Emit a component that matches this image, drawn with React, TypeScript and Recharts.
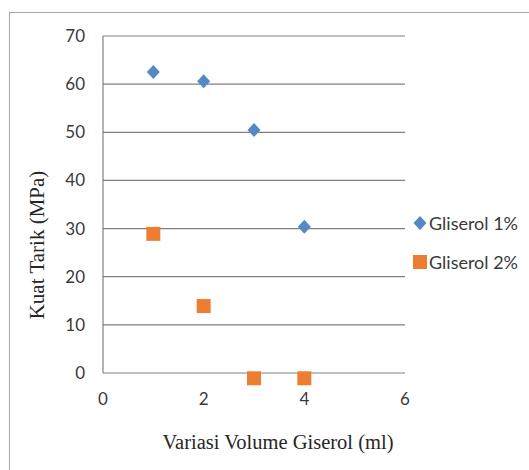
import { ScatterChart, Scatter, XAxis, YAxis, CartesianGrid, Legend } from "recharts";

const volume = [1, 2, 3, 4];
const gliserol1 = [62.5, 60.6, 50.5, 30.4];
const gliserol2 = [28.9, 13.9, -1.1, -1.1];
const xTicks = [0, 2, 4, 6];
const yTicks = [0, 10, 20, 30, 40, 50, 60, 70];
const seriesNames = ["Gliserol 1%", "Gliserol 2%"];

const BLUE = "#5589c4";
const ORANGE = "#ed7d31";
const TICK_FONT = "Lato, 'Open Sans', sans-serif";
const TITLE_FONT = "'Liberation Serif', 'Times New Roman', serif";

const data1 = volume.map((x, i) => ({ x, y: gliserol1[i] }));
const data2 = volume.map((x, i) => ({ x, y: gliserol2[i] }));

const Diamond = ({ cx, cy, fill }: any) => (
  <path d={`M${cx},${cy - 7}L${cx + 6.5},${cy}L${cx},${cy + 7}L${cx - 6.5},${cy}Z`} fill={fill} />
);

const Square = ({ cx, cy, fill }: any) => (
  <rect x={cx - 7} y={cy - 7} width={14} height={14} fill={fill} />
);

function LegendBox({ payload }: any) {
  return (
    <div style={{ fontFamily: TICK_FONT, fontSize: 18, color: "#3a3a3a" }}>
      {(payload || []).map((p: any, i: number) => (
        <div key={p.value} style={{ display: "flex", alignItems: "center", height: 39 }}>
          <svg width={16} height={16} style={{ marginRight: 1 }}>
            {i === 0 ? <Diamond cx={8} cy={8} fill={BLUE} /> : <Square cx={8} cy={8} fill={ORANGE} />}
          </svg>
          <span>{p.value}</span>
        </div>
      ))}
    </div>
  );
}

const XTitle = () => (
  <text x={278} y={449} textAnchor="middle" fontFamily={TITLE_FONT} fontSize={20.5} fill="#262626">
    Variasi Volume Giserol (ml)
  </text>
);

const YTitle = () => (
  <text
    x={44}
    y={245}
    transform="rotate(-90, 44, 245)"
    textAnchor="middle"
    fontFamily={TITLE_FONT}
    fontSize={21}
    fill="#262626"
  >
    Kuat Tarik (MPa)
  </text>
);

export default function App() {
  return (
    <div style={{ position: "absolute", left: 0, top: 0, width: 529, height: 470, background: "#fff", overflow: "hidden" }}>
      <style>{".recharts-scatter{clip-path:none !important}"}</style>
      <div
        style={{
          position: "absolute",
          left: 9,
          top: 12,
          width: 560,
          height: 500,
          border: "1px solid #a6a6a6",
        }}
      />
      <ScatterChart width={529} height={470} margin={{ top: 36, right: 124, bottom: 0, left: 0 }}>
        <CartesianGrid vertical={false} stroke="#808080" strokeWidth={1.2} />
        <XAxis
          type="number"
          dataKey="x"
          domain={[0, 6]}
          ticks={xTicks}
          allowDataOverflow
          axisLine={false}
          tickLine={false}
          tickSize={0}
          tickMargin={20}
          height={97}
          tick={{ fontSize: 17, fill: "#3a3a3a", fontFamily: TICK_FONT }}
          label={<XTitle />}
        />
        <YAxis
          type="number"
          dataKey="y"
          domain={[0, 70]}
          ticks={yTicks}
          allowDataOverflow
          axisLine={{ stroke: "#808080", strokeWidth: 1.2 }}
          tickLine={false}
          tickSize={0}
          tickMargin={18}
          width={103}
          tick={{ fontSize: 17, fill: "#3a3a3a", fontFamily: TICK_FONT }}
          label={<YTitle />}
        />
        <Legend
          layout="vertical"
          align="center"
          verticalAlign="middle"
          content={<LegendBox />}
          wrapperStyle={{ left: 412, top: 203, width: 117 }}
        />
        <Scatter name={seriesNames[0]} data={data1} fill={BLUE} shape={<Diamond />} isAnimationActive={false} />
        <Scatter name={seriesNames[1]} data={data2} fill={ORANGE} shape={<Square />} isAnimationActive={false} />
      </ScatterChart>
    </div>
  );
}
